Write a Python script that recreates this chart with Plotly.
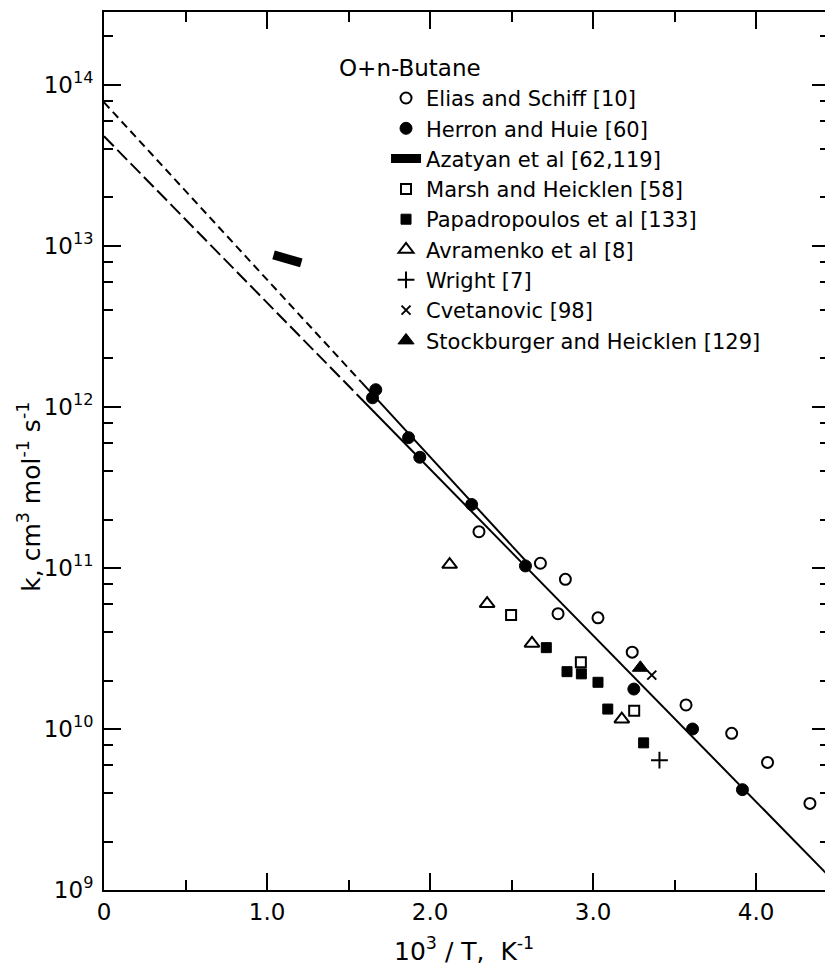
import plotly.graph_objects as go

# ---- data: 10^3/T (K^-1) and k (cm^3 mol^-1 s^-1) ----
elias_x = [2.30, 2.677, 2.83, 2.785, 3.03, 3.24, 3.57, 3.85, 4.07, 4.33]
elias_k = [1.68e11, 1.07e11, 8.5e10, 5.2e10, 4.9e10, 3.0e10, 1.41e10, 9.4e9, 6.2e9, 3.45e9]

herron_x = [1.667, 1.647, 1.868, 1.937, 2.255, 2.585, 3.25, 3.61, 3.916]
herron_k = [1.28e12, 1.14e12, 6.45e11, 4.87e11, 2.48e11, 1.03e11, 1.77e10, 1.0e10, 4.2e9]

azatyan_x = [1.04, 1.21]
azatyan_k = [8.8e12, 7.85e12]

marsh_x = [2.497, 2.925, 3.252]
marsh_k = [5.1e10, 2.6e10, 1.3e10]

papadopoulos_x = [2.713, 2.84, 2.928, 3.03, 3.09, 3.31]
papadopoulos_k = [3.2e10, 2.27e10, 2.2e10, 1.95e10, 1.33e10, 8.2e9]

avramenko_x = [2.12, 2.35, 2.625, 3.176]
avramenko_k = [1.05e11, 6.0e10, 3.4e10, 1.15e10]

wright_x = [3.407]
wright_k = [6.4e9]

cvetanovic_x = [3.36]
cvetanovic_k = [2.16e10]

stockburger_x = [3.29]
stockburger_k = [2.4e10]

# recommended expressions (two lines, dashed where extrapolated)
upper_dash_x = [0.0, 1.58]
upper_dash_k = [7.8e13, 1.42e12]
upper_solid_x = [1.58, 2.60]
upper_solid_k = [1.42e12, 1.07e11]
lower_dash_x = [0.0, 1.55]
lower_dash_k = [4.8e13, 1.2e12]
lower_solid_x = [1.55, 4.45]
lower_solid_k = [1.2e12, 1.21e9]

FONT = 'DejaVu Sans'
INK = 'black'


def marker_scatter(xs, ys, name, symbol, size=10, width=2):
    """Single data series drawn as black markers"""
    return go.Scatter(x=xs, y=ys, mode='markers', name=name,
                      marker=dict(symbol=symbol, size=size, color=INK,
                                  line=dict(color=INK, width=width)))


def line_scatter(xs, ys, dash='solid', width=2, name=None, legend=False):
    return go.Scatter(x=xs, y=ys, mode='lines', name=name, showlegend=legend,
                      hoverinfo='skip', line=dict(color=INK, width=width, dash=dash))


traces = [
    marker_scatter(elias_x, elias_k, 'Elias and Schiff [10]', 'circle-open', size=11),
    marker_scatter(herron_x, herron_k, 'Herron and Huie [60]', 'circle', size=12, width=1),
    line_scatter(azatyan_x, azatyan_k, width=9, name='Azatyan et al [62,119]', legend=True),
    marker_scatter(marsh_x, marsh_k, 'Marsh and Heicklen [58]', 'square-open', size=10),
    marker_scatter(papadopoulos_x, papadopoulos_k, 'Papadropoulos et al [133]', 'square', size=10, width=1),
    marker_scatter(avramenko_x, avramenko_k, 'Avramenko et al [8]', 'triangle-up-open', size=13),
    marker_scatter(wright_x, wright_k, 'Wright [7]', 'cross-thin', size=12),
    marker_scatter(cvetanovic_x, cvetanovic_k, 'Cvetanovic [98]', 'x-thin', size=9),
    marker_scatter(stockburger_x, stockburger_k, 'Stockburger and Heicklen [129]', 'triangle-up', size=14, width=1),
    line_scatter(upper_dash_x, upper_dash_k, dash='8px,5px'),
    line_scatter(upper_solid_x, upper_solid_k),
    line_scatter(lower_dash_x, lower_dash_k, dash='14px,5px'),
    line_scatter(lower_solid_x, lower_solid_k),
]

fig = go.Figure(traces)

decades = list(range(9, 15))
y_major = [10.0 ** e for e in decades]
y_labels = [f'10<sup>{e}</sup>' for e in decades]
y_minor = [m * 10.0 ** e for e in range(9, 15) for m in (2, 4, 6, 8)]

axis_common = dict(showline=True, linecolor=INK, linewidth=2, mirror='ticks',
                   ticks='inside', ticklen=17, tickwidth=2, tickcolor=INK,
                   showgrid=False, zeroline=False,
                   tickfont=dict(family=FONT, size=23, color=INK))

fig.update_xaxes(range=[0, 4.447], tickvals=[0, 1, 2, 3, 4],
                 ticktext=['0', '1.0', '2.0', '3.0', '4.0'],
                 minor=dict(ticks='inside', ticklen=10, tickwidth=2, tickcolor=INK, dtick=0.5, tick0=0,
                            showgrid=False),
                 **axis_common)
fig.update_yaxes(type='log', range=[9, 14.453], tickvals=y_major, ticktext=y_labels,
                 ticklabelstandoff=4,
                 minor=dict(ticks='inside', ticklen=9, tickwidth=2, tickcolor=INK, tickvals=y_minor,
                            showgrid=False),
                 **axis_common)

# the page body keeps its default 8px margin, so the figure is 8px smaller than the window
fig.update_layout(
    width=825, height=962,
    margin=dict(l=96, r=2, t=4, b=80),
    paper_bgcolor='white', plot_bgcolor='white',
    font=dict(family=FONT, size=23, color=INK),
    showlegend=True,
    legend=dict(x=0.389, y=0.925, xanchor='left', yanchor='top',
                bgcolor='rgba(0,0,0,0)', borderwidth=0,
                font=dict(family=FONT, size=21, color=INK)),
    annotations=[
        dict(text='O+n-Butane', xref='paper', yref='paper', x=0.322, y=0.936,
             xanchor='left', yanchor='middle', showarrow=False,
             font=dict(family=FONT, size=23, color=INK)),
        dict(text='k, cm<sup>3</sup> mol<sup>-1</sup> s<sup>-1</sup>', xref='paper', yref='paper',
             x=-0.102, y=0.448, textangle=-90, xanchor='center', yanchor='middle', showarrow=False,
             font=dict(family=FONT, size=25, color=INK)),
        dict(text='10<sup>3</sup> / T,  K<sup>-1</sup>', xref='paper', yref='paper',
             x=0.497, y=-0.068, xanchor='center', yanchor='middle', showarrow=False,
             font=dict(family=FONT, size=25, color=INK)),
    ],
)

fig.write_html("out.html")
